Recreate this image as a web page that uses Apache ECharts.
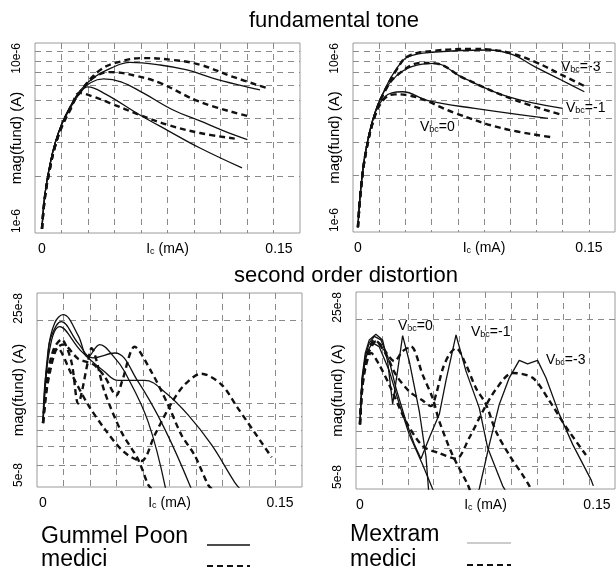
<!DOCTYPE html>
<html>
<head>
<meta charset="utf-8">
<script src="https://cdn.jsdelivr.net/npm/echarts@6/dist/echarts.min.js"></script>
<style>
  html, body { margin: 0; padding: 0; background: #fff; }
  #main { width: 616px; height: 570px; }
</style>
</head>
<body>
<div id="main"></div>
<script>
// ---- data (x in mA, y in units noted per block) ----

// fundamental tone, Gummel Poon (solid) / medici (dashed), y in 1e-6 A
const gpFundX1 = [0, 0.0019, 0.0051, 0.0082, 0.0125, 0.0177, 0.024, 0.033, 0.044, 0.0557, 0.0747, 0.0918, 0.108, 0.125, 0.138];
const gpFundY1 = [1.05, 1.6, 2.3, 2.95, 3.75, 4.6, 5.6, 6.6, 7.4, 7.9, 7.66, 7.21, 6.54, 6.0, 5.66];
const gpFundX2 = [0, 0.0019, 0.0051, 0.0082, 0.0125, 0.0177, 0.024, 0.031, 0.039, 0.05, 0.064, 0.083, 0.1, 0.115, 0.13];
const gpFundY2 = [1.05, 1.6, 2.3, 2.95, 3.75, 4.6, 5.5, 6.2, 6.47, 6.25, 5.46, 4.44, 3.89, 3.45, 3.1];
const gpFundX3 = [0, 0.0019, 0.0051, 0.0082, 0.0125, 0.0177, 0.023, 0.029, 0.04, 0.062, 0.08, 0.1, 0.1266];
const gpFundY3 = [1.05, 1.6, 2.3, 2.95, 3.72, 4.5, 5.3, 5.87, 5.4, 4.18, 3.45, 2.8, 2.2];
const mdFundX1 = [0, 0.0019, 0.0051, 0.0082, 0.0125, 0.0177, 0.024, 0.0367, 0.05, 0.064, 0.083, 0.1, 0.121, 0.1437];
const mdFundY1 = [1.05, 1.55, 2.2, 2.85, 3.65, 4.5, 5.5, 7.2, 8.0, 8.33, 8.14, 7.69, 6.63, 5.75];
const mdFundX2 = [0, 0.0019, 0.0051, 0.0082, 0.0125, 0.0177, 0.024, 0.033, 0.043, 0.06, 0.0747, 0.1, 0.13];
const mdFundY2 = [1.05, 1.55, 2.2, 2.85, 3.65, 4.5, 5.5, 6.6, 7.03, 6.7, 6.16, 4.9, 4.13];
const mdFundX3 = [0, 0.0019, 0.0051, 0.0082, 0.0125, 0.0177, 0.024, 0.033, 0.043, 0.062, 0.08, 0.1, 0.122];
const mdFundY3 = [1.05, 1.55, 2.2, 2.85, 3.6, 4.4, 5.46, 5.2, 4.83, 4.18, 3.7, 3.36, 3.14];

// fundamental tone, Mextram (solid) / medici (dashed), Vbc = 0, -1, -3, y in 1e-6 A
const mxFundX0 = [0, 0.002, 0.0052, 0.011, 0.0175, 0.022, 0.029, 0.0455, 0.0758, 0.1234];
const mxFundY0 = [1.06, 1.75, 2.72, 4.26, 5.2, 5.45, 5.52, 4.95, 4.51, 3.99];
const mdMxFundX0 = [0, 0.002, 0.0052, 0.011, 0.0175, 0.024, 0.032, 0.063, 0.093, 0.125];
const mdMxFundY0 = [1.06, 1.7, 2.65, 4.1, 5.1, 5.35, 5.3, 4.26, 3.55, 3.18];
const mxFundX1 = [0, 0.002, 0.0052, 0.011, 0.0175, 0.025, 0.035, 0.0498, 0.0671, 0.0974, 0.133];
const mxFundY1 = [1.06, 1.75, 2.72, 4.26, 5.64, 6.7, 7.5, 7.8, 6.62, 5.2, 4.51];
const mdMxFundX1 = [0, 0.002, 0.0052, 0.011, 0.0175, 0.025, 0.041, 0.05, 0.069, 0.102, 0.133];
const mdMxFundY1 = [1.06, 1.7, 2.65, 4.15, 5.55, 6.7, 7.84, 7.8, 6.5, 4.99, 4.16];
const mxFundX3 = [0, 0.002, 0.0052, 0.011, 0.0175, 0.025, 0.0325, 0.05, 0.0844, 0.1, 0.1147, 0.132, 0.147];
const mxFundY3 = [1.06, 1.75, 2.72, 4.26, 5.7, 7.3, 8.45, 8.95, 9.18, 8.7, 7.5, 6.37, 5.52];
const mdMxFundX3 = [0, 0.002, 0.0052, 0.011, 0.0175, 0.025, 0.0325, 0.05, 0.075, 0.0844, 0.1, 0.115, 0.132, 0.148];
const mdMxFundY3 = [1.06, 1.7, 2.65, 4.15, 5.6, 7.2, 8.5, 9.1, 9.3, 9.25, 8.8, 7.95, 6.8, 5.87];

// second order distortion, Gummel Poon / medici, y in 1e-8 A
const gpDistX1 = [0, 0.0032, 0.0074, 0.0127, 0.0222, 0.0285, 0.0359, 0.0454, 0.0517, 0.0665, 0.078];
const gpDistY1 = [8.5, 15.5, 19.5, 20.9, 17.6, 14.7, 16.3, 14.6, 13.0, 8.6, 4.8];
const gpDistX2 = [0, 0.0032, 0.0053, 0.0116, 0.0222, 0.0316, 0.0454, 0.0601, 0.077, 0.094];
const gpDistY2 = [8.5, 15.0, 17.5, 19.7, 16.5, 14.6, 15.2, 12.0, 8.1, 4.9];
const gpDistX3 = [0, 0.0032, 0.0106, 0.0243, 0.039, 0.0475, 0.0643, 0.077, 0.0918, 0.1066, 0.1213, 0.125];
const gpDistY3 = [8.5, 14.5, 18.9, 15.4, 13.0, 12.1, 12.1, 11.0, 9.1, 7.1, 5.2, 4.9];
const mdDistX1 = [0, 0.0032, 0.007, 0.0116, 0.0179, 0.0222, 0.0285, 0.0306, 0.039, 0.0496, 0.0601, 0.0665, 0.069];
const mdDistY1 = [8.5, 13.0, 15.8, 17.0, 14.2, 10.0, 14.2, 15.8, 11.0, 7.9, 6.3, 5.1, 4.9];
const mdDistX2 = [0, 0.0032, 0.0074, 0.0127, 0.0222, 0.032, 0.039, 0.0464, 0.05, 0.058, 0.0686, 0.0791, 0.0876, 0.096, 0.1044, 0.107];
const mdDistY2 = [8.5, 12.5, 15.5, 16.3, 14.5, 13.8, 12.5, 10.7, 12.0, 16.0, 13.0, 9.9, 7.7, 6.5, 5.1, 4.9];
const mdDistX3 = [0, 0.0032, 0.0095, 0.0179, 0.0285, 0.039, 0.051, 0.0622, 0.0707, 0.0812, 0.0897, 0.1002, 0.1129, 0.1234, 0.1447];
const mdDistY3 = [8.5, 12.0, 15.8, 12.8, 9.9, 8.1, 6.7, 6.2, 7.7, 10.0, 11.7, 12.8, 11.7, 9.6, 6.4];

// second order distortion, Mextram / medici, Vbc = 0, -1, -3, y in 1e-8 A
const mxDistX0 = [0, 0.0013, 0.0034, 0.0059, 0.0101, 0.0143, 0.0175, 0.0207, 0.0238, 0.027, 0.0312, 0.0376, 0.0418, 0.0435];
const mxDistY0 = [8.48, 12.4, 15.2, 16.9, 17.7, 16.9, 14.2, 10.0, 13.1, 17.5, 14.2, 9.4, 6.5, 4.9];
const mxDistX1 = [0, 0.0013, 0.0034, 0.0059, 0.0091, 0.0133, 0.0186, 0.0228, 0.0291, 0.0344, 0.0386, 0.0439, 0.0502, 0.0544, 0.0608, 0.0671, 0.0755, 0.0808, 0.0903, 0.0924];
const mxDistY1 = [8.48, 12.1, 14.8, 16.5, 17.4, 16.9, 14.2, 11.4, 8.7, 7.2, 6.4, 7.6, 9.2, 12.1, 17.6, 13.1, 9.7, 7.0, 5.13, 4.9];
const mxDistX3 = [0, 0.0013, 0.0034, 0.0059, 0.008, 0.0122, 0.0186, 0.0249, 0.0312, 0.0397, 0.046, 0.0608, 0.0755, 0.0819, 0.0882, 0.0945, 0.1008, 0.1061, 0.1124, 0.1177, 0.1262, 0.1346, 0.1462, 0.1477];
const mxDistY3 = [8.48, 11.7, 14.4, 15.8, 16.5, 16.0, 13.1, 10.0, 7.8, 6.1, 5.0, 3.66, 5.0, 7.2, 10.0, 12.4, 14.3, 13.9, 14.3, 12.4, 9.2, 7.2, 5.4, 5.13];
const mdMxDistX0 = [0, 0.0013, 0.0034, 0.0059, 0.0091, 0.0133, 0.0186, 0.0217, 0.027, 0.0323, 0.0397, 0.046, 0.0502, 0.0586, 0.0681, 0.0696];
const mdMxDistY0 = [8.48, 11.4, 14.0, 15.8, 16.9, 16.2, 14.7, 14.2, 15.4, 16.0, 12.7, 10.5, 8.7, 6.6, 5.2, 4.95];
const mdMxDistX1 = [0, 0.0013, 0.0034, 0.0059, 0.0101, 0.0165, 0.0228, 0.0312, 0.0397, 0.0449, 0.0481, 0.0523, 0.0565, 0.0608, 0.0671, 0.0734, 0.0797, 0.0861, 0.0945, 0.103, 0.1072, 0.1082];
const mdMxDistY1 = [8.48, 11.2, 13.8, 15.4, 16.7, 15.0, 12.7, 11.1, 10.3, 9.84, 10.8, 13.3, 15.0, 15.8, 13.8, 11.4, 10.0, 8.0, 6.6, 5.6, 5.13, 4.95];
const mdMxDistX3 = [0, 0.0013, 0.0034, 0.007, 0.0122, 0.0186, 0.0291, 0.0397, 0.0502, 0.0608, 0.0692, 0.0776, 0.0861, 0.0966, 0.1093, 0.1198, 0.1304, 0.143];
const mdMxDistY3 = [8.48, 11.1, 13.4, 15.2, 13.8, 11.7, 8.7, 7.1, 6.7, 6.4, 7.6, 9.4, 11.3, 12.9, 12.4, 10.3, 8.3, 6.6];

// ticks / labels
const xTickValues = [0, 0.15];
const xTickLabels = ['0', '0.15'];
const fundTickValues = [1e-6, 1e-5];
const fundTickLabels = ['1e-6', '10e-6'];
const distTickValues = [5e-8, 25e-8];
const distTickLabels = ['5e-8', '25e-8'];
const fundGridValues = [2e-6, 3e-6, 4e-6, 5e-6, 6e-6, 7e-6, 8e-6, 9e-6];
const distGridValues = [6e-8, 7e-8, 8e-8, 9e-8, 1e-7, 2e-7];
const vbcValues = ['0', '-1', '-3'];

const FONT = '"Liberation Sans", Arial, Helvetica, sans-serif';
const chart = echarts.init(document.getElementById('main'));

// panel boxes and axis ranges
const boxes = [
  { left: 35, top: 43, width: 265, height: 190 },
  { left: 353, top: 43, width: 262, height: 189 },
  { left: 37, top: 293, width: 265, height: 194 },
  { left: 356, top: 292, width: 259, height: 197 }
];
const xRanges = [[-0.0044, 0.1633], [-0.0032, 0.1669], [-0.0038, 0.1639], [-0.0025, 0.1614]];
const yRanges = [[1e-6, 1e-5], [1e-6, 1e-5], [5e-8, 25e-8], [5e-8, 25e-8]];

const gridLine = { show: true, lineStyle: { color: '#8a8a8a', width: 1, type: [6, 5] } };

function pick(values, labels, v, useLog) {
  for (let i = 0; i < values.length; i++) {
    const d = useLog ? Math.abs(Math.log10(v) - Math.log10(values[i])) : Math.abs(v - values[i]);
    if (d < 1e-4) return labels[i];
  }
  return '';
}

const xAxes = xRanges.map((r, i) => {
  const cols = [];
  for (let k = 1; k < 10; k++) cols.push(r[0] + k * (r[1] - r[0]) / 10);
  return {
    type: 'value', gridIndex: i, min: r[0], max: r[1],
    name: '{i|I}{s|c} (mA)', nameLocation: 'middle', nameGap: 9, nameMoveOverlap: false,
    nameTextStyle: {
      color: '#000', fontSize: 14, fontFamily: FONT,
      rich: {
        i: { fontSize: 14, fontFamily: FONT, color: '#000' },
        s: { fontSize: 9, fontFamily: FONT, color: '#000', verticalAlign: 'bottom' }
      }
    },
    axisLine: { show: false },
    axisTick: { show: false, customValues: cols },
    axisLabel: {
      customValues: xTickValues, margin: 9, fontSize: 14, color: '#000', fontFamily: FONT,
      formatter: v => pick(xTickValues, xTickLabels, v, false)
    },
    splitLine: gridLine
  };
});

const yAxes = yRanges.map((r, i) => {
  const top = i < 2;
  const vals = top ? fundTickValues : distTickValues;
  const labs = top ? fundTickLabels : distTickLabels;
  return {
    type: 'log', logBase: 10, gridIndex: i, min: r[0], max: r[1],
    name: 'mag(fund) (A)', nameLocation: 'middle', nameGap: 11, nameRotate: 90, nameMoveOverlap: false,
    nameTextStyle: { color: '#000', fontSize: 15, fontFamily: FONT },
    axisLine: { show: false },
    axisTick: { show: false, customValues: top ? fundGridValues : distGridValues },
    axisLabel: {
      customValues: vals, rotate: 90, margin: 12, fontSize: 12, color: '#000', fontFamily: FONT,
      alignMinLabel: 'left', alignMaxLabel: 'right',
      formatter: v => pick(vals, labs, v, true)
    },
    splitLine: gridLine
  };
});

function curve(xs, ys, unit, panel, dashed, smooth) {
  return {
    type: 'line', xAxisIndex: panel, yAxisIndex: panel,
    data: xs.map((x, i) => [x, ys[i] * unit]),
    symbol: 'none', smooth: smooth, silent: true, clip: true,
    lineStyle: dashed
      ? { color: '#111', width: 2.4, type: [6, 4] }
      : { color: '#111', width: 1.3 }
  };
}

const series = [
  curve(gpFundX1, gpFundY1, 1e-6, 0, false, 0.4),
  curve(gpFundX2, gpFundY2, 1e-6, 0, false, 0.4),
  curve(gpFundX3, gpFundY3, 1e-6, 0, false, 0.4),
  curve(mdFundX1, mdFundY1, 1e-6, 0, true, 0.4),
  curve(mdFundX2, mdFundY2, 1e-6, 0, true, 0.4),
  curve(mdFundX3, mdFundY3, 1e-6, 0, true, 0.4),

  curve(mxFundX0, mxFundY0, 1e-6, 1, false, 0.4),
  curve(mxFundX1, mxFundY1, 1e-6, 1, false, 0.4),
  curve(mxFundX3, mxFundY3, 1e-6, 1, false, 0.4),
  curve(mdMxFundX0, mdMxFundY0, 1e-6, 1, true, 0.4),
  curve(mdMxFundX1, mdMxFundY1, 1e-6, 1, true, 0.4),
  curve(mdMxFundX3, mdMxFundY3, 1e-6, 1, true, 0.4),

  curve(gpDistX1, gpDistY1, 1e-8, 2, false, 0.4),
  curve(gpDistX2, gpDistY2, 1e-8, 2, false, 0.4),
  curve(gpDistX3, gpDistY3, 1e-8, 2, false, 0.4),
  curve(mdDistX1, mdDistY1, 1e-8, 2, true, 0.3),
  curve(mdDistX2, mdDistY2, 1e-8, 2, true, 0.3),
  curve(mdDistX3, mdDistY3, 1e-8, 2, true, 0.3),

  curve(mxDistX0, mxDistY0, 1e-8, 3, false, false),
  curve(mxDistX1, mxDistY1, 1e-8, 3, false, false),
  curve(mxDistX3, mxDistY3, 1e-8, 3, false, false),
  curve(mdMxDistX0, mdMxDistY0, 1e-8, 3, true, 0.3),
  curve(mdMxDistX1, mdMxDistY1, 1e-8, 3, true, 0.3),
  curve(mdMxDistX3, mdMxDistY3, 1e-8, 3, true, 0.3)
];

const vbcRich = {
  v: { fontSize: 14, fontFamily: FONT, fill: '#000' },
  s: { fontSize: 9, fontFamily: FONT, fill: '#000', verticalAlign: 'bottom' }
};
function vbcText(val, x, y) {
  return {
    type: 'text', x: x, y: y, silent: true,
    style: { text: '{v|V}{s|bc}{v|=' + val + '}', rich: vbcRich, align: 'left', verticalAlign: 'middle', fill: '#000' }
  };
}
function plainText(t, x, y, size, align) {
  return {
    type: 'text', x: x, y: y, silent: true,
    style: { text: t, fontSize: size, fontFamily: FONT, fill: '#000', align: align, verticalAlign: 'middle' }
  };
}
function sample(x1, x2, y, dashed, color, w) {
  return {
    type: 'line', silent: true,
    shape: { x1: x1, y1: y, x2: x2, y2: y },
    style: { stroke: color, lineWidth: w, lineDash: dashed ? [6, 4] : null }
  };
}

const graphics = [
  plainText('fundamental tone', 334, 21, 22, 'center'),
  plainText('second order distortion', 346, 276, 22, 'center'),
  vbcText(vbcValues[2], 561, 67),
  vbcText(vbcValues[1], 566, 108),
  vbcText(vbcValues[0], 420, 127),
  vbcText(vbcValues[0], 398, 326),
  vbcText(vbcValues[1], 471, 332),
  vbcText(vbcValues[2], 546, 360),
  plainText('Gummel Poon', 41, 537, 23, 'left'),
  plainText('medici', 41, 560, 23, 'left'),
  plainText('Mextram', 350, 535, 23, 'left'),
  plainText('medici', 350, 560, 23, 'left'),
  sample(207, 250, 545, false, '#111', 1.4),
  sample(207, 250, 566, true, '#111', 2.2),
  sample(467, 511, 543, false, '#9a9a9a', 1.2),
  sample(467, 511, 565, true, '#111', 2.2)
];

chart.setOption({
  animation: false,
  backgroundColor: '#fff',
  textStyle: { fontFamily: FONT },
  grid: boxes.map(b => Object.assign({
    show: true, borderColor: '#9a9a9a', borderWidth: 1, backgroundColor: 'transparent',
    containLabel: false, outerBoundsMode: 'none'
  }, b)),
  xAxis: xAxes,
  yAxis: yAxes,
  series: series,
  graphic: graphics
});
</script>
</body>
</html>
